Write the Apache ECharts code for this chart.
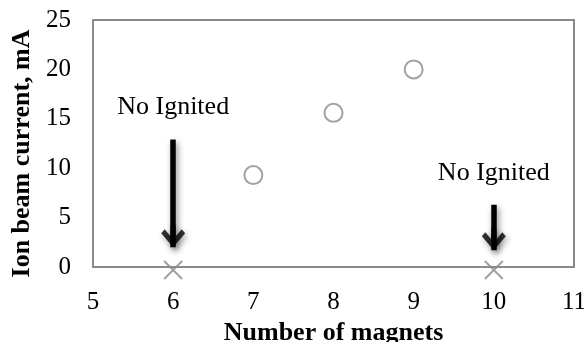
<!DOCTYPE html>
<html>
<head>
<meta charset="utf-8">
<script src="https://cdn.jsdelivr.net/npm/echarts@6/dist/echarts.min.js"></script>
<style>
  html, body { margin: 0; padding: 0; background: #fff; }
  #chart { width: 584px; height: 342px; }
</style>
</head>
<body>
<div id="chart"></div>
<script>
// Ignited discharges: magnet count vs. measured ion beam current (mA)
const ignitedMagnets = [7, 8, 9];
const ignitedCurrents = [9.3, 15.6, 20.0];

// Configurations where the discharge did not ignite
const failedMagnets = [6, 10];
const failedCurrents = [-0.3, -0.3];

// Annotation arrows pointing at the failed configurations
const noteX = [6, 10];
const noteTop = [12.9, 6.3];
const noteTip = [2.0, 1.7];
const noteText = 'No Ignited';

// Axis ticks
const xTicks = { min: 5, max: 11, step: 1 };
const yTicks = { min: 0, max: 25, step: 5 };

const serif = '"Liberation Serif", "Times New Roman", serif';
const grey = '#8a8a8a';

// Downward chevron arrowhead (tip at the bottom, thick arms and a short stem)
const chevronDown = 'path://M12,22 L24,8 L20.5,4.1 L14.6,11 L14.6,0 L9.4,0 L9.4,11 L3.5,4.1 L0,8 Z';

const arrowShadow = { shadowColor: 'rgba(0,0,0,0.45)', shadowBlur: 6, shadowOffsetX: 2, shadowOffsetY: 3 };

const arrowLines = noteX.map((x, i) => [
  { coord: [x, noteTop[i]] },
  { coord: [x, noteTip[i]] }
]);

const chart = echarts.init(document.getElementById('chart'), null, { renderer: 'canvas' });

chart.setOption({
  animation: false,
  backgroundColor: '#fff',
  grid: {
    left: 93, right: 10, top: 20, bottom: 75,
    outerBoundsMode: 'none',
    containLabel: false,
    show: true, borderColor: grey, borderWidth: 2, backgroundColor: 'transparent'
  },
  xAxis: {
    type: 'value',
    min: xTicks.min, max: xTicks.max, interval: xTicks.step,
    name: 'Number of magnets',
    nameLocation: 'middle',
    nameGap: 53,
    nameTextStyle: { fontFamily: serif, fontSize: 26, fontWeight: 'bold', color: '#000' },
    axisLine: { show: false },
    axisTick: { show: false },
    splitLine: { show: false },
    axisLabel: { fontFamily: serif, fontSize: 25, color: '#000', margin: 23 }
  },
  yAxis: {
    type: 'value',
    min: yTicks.min, max: yTicks.max, interval: yTicks.step,
    name: 'Ion beam current, mA',
    nameLocation: 'middle',
    nameGap: 58,
    nameTextStyle: { fontFamily: serif, fontSize: 26, fontWeight: 'bold', color: '#000', padding: [0, 20, 0, 0] },
    axisLine: { show: false },
    axisTick: { show: false },
    splitLine: { show: false },
    axisLabel: { fontFamily: serif, fontSize: 25, color: '#000', margin: 22 }
  },
  series: [
    {
      name: 'Ignited',
      type: 'scatter',
      data: ignitedMagnets.map((m, i) => [m, ignitedCurrents[i]]),
      symbol: 'circle',
      symbolSize: 18,
      itemStyle: { color: '#fff', borderColor: grey, borderWidth: 2 },
      z: 3
    },
    {
      name: 'Not ignited',
      type: 'scatter',
      clip: false,
      data: failedMagnets.map((m, i) => [m, failedCurrents[i]]),
      symbol: 'path://M0,0 L10,10 M10,0 L0,10',
      symbolSize: 18,
      itemStyle: { color: 'none', borderColor: grey, borderWidth: 2 },
      z: 3,
      markLine: {
        silent: true,
        symbol: ['none', 'none'],
        lineStyle: Object.assign({ color: '#000', width: 5.5, type: 'solid' }, arrowShadow),
        label: {
          show: true,
          position: 'start',
          formatter: noteText,
          distance: 19,
          fontFamily: serif,
          fontSize: 26,
          color: '#000'
        },
        data: arrowLines
      }
    },
    {
      name: 'Arrowheads',
      type: 'scatter',
      silent: true,
      data: noteX.map((x, i) => [x, noteTip[i]]),
      symbol: chevronDown,
      symbolSize: [24, 22],
      symbolOffset: [0, -11],
      itemStyle: Object.assign({ color: '#000' }, arrowShadow),
      z: 4
    }
  ]
});
</script>
</body>
</html>
